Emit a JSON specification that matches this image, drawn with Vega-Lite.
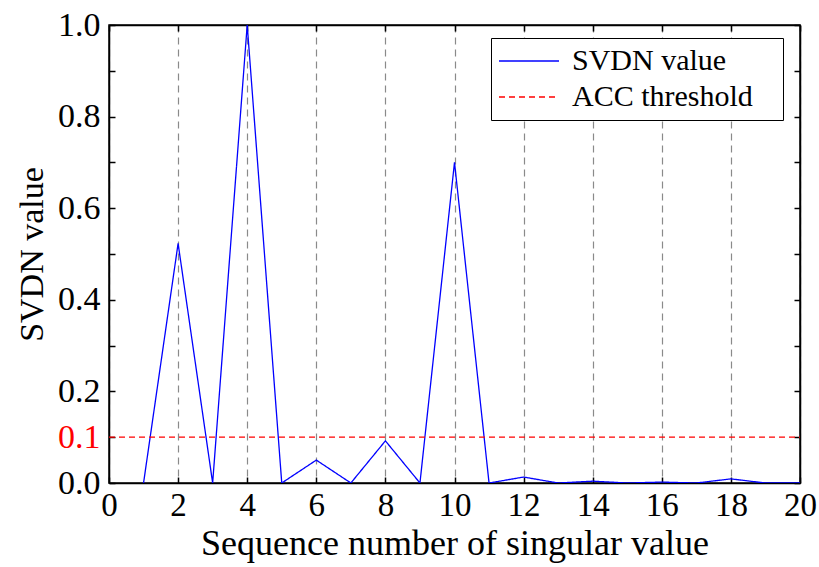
{
  "$schema": "https://vega.github.io/schema/vega-lite/v6.json",
  "autosize": "none",
  "width": 691,
  "height": 458,
  "padding": {"left": 109, "top": 25, "right": 19, "bottom": 84},
  "background": "white",
  "config": {
    "font": "Liberation Serif",
    "view": {"stroke": "black", "strokeWidth": 1.5},
    "axis": {
      "labelFont": "Liberation Serif",
      "titleFont": "Liberation Serif",
      "labelColor": "black",
      "titleColor": "black",
      "titleFontWeight": "normal",
      "domainColor": "black",
      "domainWidth": 1.5,
      "tickColor": "black",
      "tickWidth": 1.5
    },
    "legend": {"labelFont": "Liberation Serif"}
  },
  "datasets": {
    "svdn": [
      {"n": 1, "v": 0, "series": "SVDN value"},
      {"n": 2, "v": 0.523, "series": "SVDN value"},
      {"n": 3, "v": 0, "series": "SVDN value"},
      {"n": 4, "v": 1.0, "series": "SVDN value"},
      {"n": 5, "v": 0, "series": "SVDN value"},
      {"n": 6, "v": 0.05, "series": "SVDN value"},
      {"n": 7, "v": 0, "series": "SVDN value"},
      {"n": 8, "v": 0.092, "series": "SVDN value"},
      {"n": 9, "v": 0, "series": "SVDN value"},
      {"n": 10, "v": 0.70, "series": "SVDN value"},
      {"n": 11, "v": 0, "series": "SVDN value"},
      {"n": 12, "v": 0.013, "series": "SVDN value"},
      {"n": 13, "v": 0, "series": "SVDN value"},
      {"n": 14, "v": 0.004, "series": "SVDN value"},
      {"n": 15, "v": 0, "series": "SVDN value"},
      {"n": 16, "v": 0.002, "series": "SVDN value"},
      {"n": 17, "v": 0, "series": "SVDN value"},
      {"n": 18, "v": 0.009, "series": "SVDN value"},
      {"n": 19, "v": 0, "series": "SVDN value"},
      {"n": 20, "v": 0, "series": "SVDN value"}
    ],
    "threshold": [
      {"n": 0, "v": 0.1, "series": "ACC threshold"},
      {"n": 20, "v": 0.1, "series": "ACC threshold"}
    ]
  },
  "resolve": {"axis": {"x": "independent", "y": "independent"}},
  "layer": [
    {
      "data": {"name": "svdn"},
      "mark": {"type": "line", "strokeWidth": 1.3, "clip": true},
      "encoding": {
        "x": {
          "field": "n", "type": "quantitative",
          "scale": {"domain": [0, 20], "nice": false},
          "axis": {
            "orient": "bottom",
            "values": [0, 2, 4, 6, 8, 10, 12, 14, 16, 18, 20],
            "title": "Sequence number of singular value",
            "titleFontSize": 36,
            "titlePadding": 4,
            "labelFontSize": 33,
            "labelPadding": 12,
            "tickSize": -6,
            "labelFlush": false,
            "grid": true,
            "gridColor": "#8a8a8a",
            "gridDash": [7, 5],
            "gridWidth": 1.2
          }
        },
        "y": {
          "field": "v", "type": "quantitative",
          "scale": {"domain": [0, 1], "nice": false},
          "axis": {
            "orient": "left",
            "values": [0, 0.1, 0.2, 0.3, 0.4, 0.5, 0.6, 0.7, 0.8, 0.9, 1.0],
            "format": ".1f",
            "labelExpr": "datum.value == 0.3 || datum.value == 0.5 || datum.value == 0.7 || datum.value == 0.9 ? '' : datum.label",
            "labelColor": {"condition": {"test": "datum.value == 0.1", "value": "red"}, "value": "black"},
            "title": "SVDN value",
            "titleFontSize": 34,
            "titlePadding": 8,
            "labelFontSize": 34,
            "labelPadding": 15,
            "tickSize": -6,
            "labelFlush": false,
            "grid": false
          }
        },
        "color": {
          "field": "series", "type": "nominal",
          "scale": {"domain": ["SVDN value", "ACC threshold"], "range": ["#0000ff", "#ff0000"]},
          "legend": {
            "orient": "none",
            "legendX": 382,
            "legendY": 13,
            "title": null,
            "strokeColor": "black",
            "fillColor": "white",
            "padding": 8,
            "symbolType": "M-1.5,0H4.5",
            "symbolSize": 400,
            "symbolStrokeWidth": 1.5,
            "labelFont": "Liberation Serif",
            "labelFontSize": 30,
            "labelColor": "black",
            "labelOffset": 43,
            "rowPadding": 6,
            "labelLimit": 500,
            "labelExpr": "datum.label + '\u2800'"
          }
        },
        "strokeDash": {
          "field": "series", "type": "nominal",
          "scale": {"domain": ["SVDN value", "ACC threshold"], "range": [[1, 0], [6, 4]]},
          "legend": null
        }
      }
    },
    {
      "data": {"name": "threshold"},
      "mark": {"type": "line", "strokeWidth": 1.3},
      "encoding": {
        "x": {
          "field": "n", "type": "quantitative",
          "scale": {"domain": [0, 20], "nice": false},
          "axis": {
            "orient": "top",
            "values": [0, 2, 4, 6, 8, 10, 12, 14, 16, 18, 20],
            "labels": false,
            "title": null,
            "tickSize": -6,
            "grid": false
          }
        },
        "y": {
          "field": "v", "type": "quantitative",
          "scale": {"domain": [0, 1], "nice": false},
          "axis": {
            "orient": "right",
            "values": [0, 0.1, 0.2, 0.3, 0.4, 0.5, 0.6, 0.7, 0.8, 0.9, 1.0],
            "labels": false,
            "title": null,
            "tickSize": -6,
            "grid": false
          }
        },
        "color": {"field": "series", "type": "nominal"},
        "strokeDash": {"field": "series", "type": "nominal", "legend": null}
      }
    }
  ]
}
